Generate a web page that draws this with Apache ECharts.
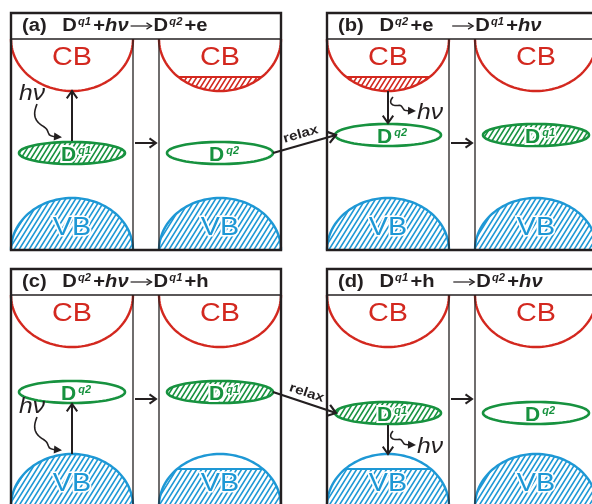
<!DOCTYPE html>
<html><head><meta charset="utf-8">
<script src="https://cdn.jsdelivr.net/npm/echarts@6/dist/echarts.min.js"></script>
<style>html,body{margin:0;padding:0;background:#fff}#c{width:592px;height:504px}</style>
</head><body><div id="c"></div>
<script>
// ================= DATA =================
// four panels (a)-(d), each with two sub-panels (before / after)
const panelLeft = [11, 327, 11, 327];          // x of panel left edge (diagram units)
const panelTop = [13, 13, 269, 269];           // y of panel top edge
// reaction titles: left-hand side and right-hand side of the arrow
const titleLeft = [
  '{b|(a)}{g| }{b|D}{s|q1}{b|+}{i|hν}',
  '{b|(b)}{g| }{b|D}{s|q2}{b|+e}{b|\u00a0\u00a0\u00a0}',
  '{b|(c)}{g| }{b|D}{s|q2}{b|+}{i|hν}',
  '{b|(d)}{g| }{b|D}{s|q1}{b|+h}{b|\u00a0\u00a0\u00a0}'
];
const titleRight = [
  '{b|D}{s|q2}{b|+e}',
  '{b|D}{s|q1}{b|+}{i|hν}',
  '{b|D}{s|q1}{b|+h}',
  '{b|D}{s|q2}{b|+}{i|hν}'
];
const defectLevel = [153, 135, 392, 413];      // y of the defect level in each panel
// sub-panel states: a-L, a-R, b-L, b-R, c-L, c-R, d-L, d-R
const cbElectrons   = [0, 1, 1, 0, 0, 0, 0, 0];
const vbHoles       = [0, 0, 0, 0, 0, 1, 1, 0];
const defectCharge  = ['q1', 'q2', 'q2', 'q1', 'q2', 'q1', 'q1', 'q2'];
const defectFilled  = [1, 0, 0, 1, 0, 1, 1, 0];
// optical transition in the left sub-panel of each panel: [from, to]
const transitions = [['D', 'CB'], ['CB', 'D'], ['VB', 'D'], ['D', 'VB']];
// relaxation arrows: from panel (right sub-panel) to panel (left sub-panel)
const relaxFrom = [0, 2];
const relaxTo = [1, 3];

// ================= GEOMETRY / STYLE =================
const PW = 270, PH = 237, TH = 26, SW = 122, GAP = 26;
const BRX = 61, BRY = 52, DRX = 53, DRY = 11;
const INK = '#231f20', RED = '#d3281f', GREEN = '#17923f', BLUE = '#1e98d5';
const FONT = 'Liberation Sans, Arial, sans-serif';
const TITLE_RICH = {
  b: { fontSize: 18, fontWeight: 'bold', fontFamily: FONT, fill: INK },
  i: { fontSize: 18, fontWeight: 'bold', fontStyle: 'italic', fontFamily: FONT, fill: INK },
  s: { fontSize: 10, fontWeight: 'bold', fontStyle: 'italic', fontFamily: FONT, fill: INK, verticalAlign: 'top', padding: [0, 2, 0, 1] },
  g: { width: 14, fontSize: 18, fontFamily: FONT }
};
const TSX = 1.12;

function hatch(color) {
  const w = 5, h = 8;
  const c = document.createElement('canvas');
  c.width = w; c.height = h;
  const g = c.getContext('2d');
  g.strokeStyle = color; g.lineWidth = 1.6;
  g.beginPath();
  for (const k of [-1, 0, 1]) {
    g.moveTo(-w + k * w, 2 * h); g.lineTo(2 * w + k * w, -h);
  }
  g.stroke();
  return { image: c, repeat: 'repeat' };
}
const HATCH = { red: hatch(RED), green: hatch(GREEN), blue: hatch(BLUE) };

function textWidth(text, rich) {
  const t = new echarts.graphic.Text({ style: { text: text, rich: rich } });
  return t.getBoundingRect().width;
}
function ell(cx, cy, rx, ry, t0, t1, n) {
  const pts = [];
  for (let i = 0; i <= n; i++) {
    const t = t0 + (t1 - t0) * i / n;
    pts.push([cx + rx * Math.cos(t), cy + ry * Math.sin(t)]);
  }
  return pts;
}
function arrow(p1, p2, color, lw, hl, ha) {
  const a = Math.atan2(p2[1] - p1[1], p2[0] - p1[0]);
  ha = ha || 0.62; hl = hl || 8;
  return [
    { type: 'line', shape: { x1: p1[0], y1: p1[1], x2: p2[0], y2: p2[1] }, style: { stroke: color, lineWidth: lw } },
    { type: 'polyline', shape: { points: [
      [p2[0] - hl * Math.cos(a - ha), p2[1] - hl * Math.sin(a - ha)], [p2[0], p2[1]],
      [p2[0] - hl * Math.cos(a + ha), p2[1] - hl * Math.sin(a + ha)]] },
      style: { stroke: color, lineWidth: lw, fill: null, lineJoin: 'miter' } }
  ];
}
function squiggle(p1, p2) {
  // quadratic base curve starting downward, ending rightward, with a wave on top
  const c = [p1[0], p2[1]];
  const pts = []; const n = 40;
  for (let i = 0; i <= n; i++) {
    const s = i / n;
    const bx = (1 - s) * (1 - s) * p1[0] + 2 * (1 - s) * s * c[0] + s * s * p2[0];
    const by = (1 - s) * (1 - s) * p1[1] + 2 * (1 - s) * s * c[1] + s * s * p2[1];
    const tx = 2 * (1 - s) * (c[0] - p1[0]) + 2 * s * (p2[0] - c[0]);
    const ty = 2 * (1 - s) * (c[1] - p1[1]) + 2 * s * (p2[1] - c[1]);
    const L = Math.hypot(tx, ty) || 1;
    const off = s < 0.75 ? 3 * Math.sin(s / 0.75 * 2 * Math.PI) : 0;
    pts.push([bx - ty / L * off, by + tx / L * off]);
  }
  const e = pts[n], q = pts[n - 4];
  const a = Math.atan2(e[1] - q[1], e[0] - q[0]);
  const hl = 8, hw = 4;
  const tip = [e[0] + 3 * Math.cos(a), e[1] + 3 * Math.sin(a)];
  return [
    { type: 'polyline', shape: { points: pts }, style: { stroke: INK, lineWidth: 1.6, fill: null } },
    { type: 'polygon', shape: { points: [tip,
      [tip[0] - hl * Math.cos(a) + hw * Math.sin(a), tip[1] - hl * Math.sin(a) - hw * Math.cos(a)],
      [tip[0] - hl * Math.cos(a) - hw * Math.sin(a), tip[1] - hl * Math.sin(a) + hw * Math.cos(a)]] },
      style: { fill: INK } }
  ];
}

// ================= RENDERERS =================
function renderFrame(params, api) {
  const p = params.dataIndex;
  const x0 = api.value(0), y0 = api.value(1);
  const C = (x, y) => api.coord([x, y]);
  const a = C(x0, y0), b = C(x0 + PW, y0 + PH);
  const ch = [];
  ch.push({ type: 'rect', shape: { x: a[0], y: a[1], width: b[0] - a[0], height: b[1] - a[1] },
    style: { fill: null, stroke: INK, lineWidth: 2.4 } });
  const d1 = C(x0, y0 + TH), d2 = C(x0 + PW, y0 + TH);
  ch.push({ type: 'line', shape: { x1: d1[0], y1: d1[1], x2: d2[0], y2: d2[1] }, style: { stroke: INK, lineWidth: 1.3 } });
  for (const xv of [x0 + SW, x0 + SW + GAP]) {
    const v1 = C(xv, y0 + TH), v2 = C(xv, y0 + PH);
    ch.push({ type: 'line', shape: { x1: v1[0], y1: v1[1], x2: v2[0], y2: v2[1] }, style: { stroke: INK, lineWidth: 1.3 } });
  }
  ch.push(...arrow(C(x0 + SW + 2, y0 + 130), C(x0 + SW + GAP - 3, y0 + 130), INK, 2, 8));
  // title: left side, arrow, right side
  const tp = C(x0 + 11, y0 + 13.5);
  ch.push({ type: 'text', x: tp[0], y: tp[1], scaleX: TSX, style: {
    text: titleLeft[p], align: 'left', verticalAlign: 'middle', rich: TITLE_RICH } });
  const ax = tp[0] + textWidth(titleLeft[p], TITLE_RICH) * TSX + 2;
  const ay = tp[1] - 0.5;
  ch.push(...arrow([ax, ay], [ax + 21, ay], INK, 1.2, 6, 0.55));
  ch.push({ type: 'text', x: ax + 23, y: tp[1], scaleX: TSX, style: {
    text: titleRight[p], align: 'left', verticalAlign: 'middle', rich: TITLE_RICH } });
  return { type: 'group', children: ch };
}

function renderSub(params, api) {
  const k = params.dataIndex, p = Math.floor(k / 2);
  const cx = api.value(0), top = api.value(1);
  const div = top + TH, bot = top + PH, lvl = defectLevel[p];
  const C = (x, y) => api.coord([x, y]);
  const P = pts => pts.map(q => C(q[0], q[1]));
  const ch = [];
  // conduction band
  if (cbElectrons[k]) {
    const yc = div + BRY - 14, a = Math.asin((yc - div) / BRY);
    ch.push({ type: 'polygon', shape: { points: P(ell(cx, div, BRX, BRY, a, Math.PI - a, 30)) }, style: { fill: HATCH.red } });
    const l = C(cx - BRX * Math.cos(a), yc), r = C(cx + BRX * Math.cos(a), yc);
    ch.push({ type: 'line', shape: { x1: l[0], y1: l[1], x2: r[0], y2: r[1] }, style: { stroke: RED, lineWidth: 2 } });
  }
  ch.push({ type: 'polyline', shape: { points: P(ell(cx, div, BRX, BRY, 0, Math.PI, 60)) }, style: { stroke: RED, lineWidth: 2.4, fill: null } });
  const cbt = C(cx, div + 19);
  ch.push({ type: 'text', x: cbt[0], y: cbt[1], scaleX: 1.15, style: { text: 'CB', fontSize: 25, fontFamily: FONT, fill: RED, align: 'center', verticalAlign: 'middle' } });
  // valence band
  if (vbHoles[k]) {
    const yc = bot - BRY + 15, a = Math.asin((bot - yc) / BRY);
    const pts = ell(cx, bot, BRX, BRY, Math.PI, Math.PI + a, 15).concat(ell(cx, bot, BRX, BRY, 2 * Math.PI - a, 2 * Math.PI, 15));
    ch.push({ type: 'polygon', shape: { points: P(pts) }, style: { fill: HATCH.blue } });
    const l = C(cx - BRX * Math.cos(a), yc), r = C(cx + BRX * Math.cos(a), yc);
    ch.push({ type: 'line', shape: { x1: l[0], y1: l[1], x2: r[0], y2: r[1] }, style: { stroke: BLUE, lineWidth: 2 } });
  } else {
    ch.push({ type: 'polygon', shape: { points: P(ell(cx, bot, BRX, BRY, Math.PI, 2 * Math.PI, 60)) }, style: { fill: HATCH.blue } });
  }
  ch.push({ type: 'polyline', shape: { points: P(ell(cx, bot, BRX, BRY, Math.PI, 2 * Math.PI, 60)) }, style: { stroke: BLUE, lineWidth: 2.4, fill: null } });
  const vbt = C(cx, bot - 22);
  ch.push({ type: 'text', x: vbt[0], y: vbt[1], scaleX: 1.15, style: { text: 'VB', fontSize: 25, fontFamily: FONT, fill: BLUE, align: 'center', verticalAlign: 'middle',
    stroke: '#fff', lineWidth: 3 } });
  // defect level
  ch.push({ type: 'polygon', shape: { points: P(ell(cx, lvl, DRX, DRY, 0, 2 * Math.PI, 72)) },
    style: { fill: defectFilled[k] ? HATCH.green : '#fff', stroke: GREEN, lineWidth: 2.6 } });
  const dt = C(cx + 4, lvl + 2.5);
  ch.push({ type: 'text', x: dt[0], y: dt[1], style: {
    text: '{d|D}{s|' + defectCharge[k] + '}', align: 'center', verticalAlign: 'middle',
    rich: {
      d: { fontSize: 21, fontWeight: 'bold', fontFamily: FONT, fill: GREEN, stroke: '#fff', lineWidth: defectFilled[k] ? 4 : 0 },
      s: { fontSize: 11, fontWeight: 'bold', fontStyle: 'italic', fontFamily: FONT, fill: GREEN, verticalAlign: 'top', padding: [0, 0, 0, 2],
           stroke: '#fff', lineWidth: defectFilled[k] ? 3 : 0 }
    } } });
  return { type: 'group', children: ch };
}

function renderTransition(params, api) {
  const p = params.dataIndex;
  const cx = api.value(0), top = api.value(1);
  const div = top + TH, bot = top + PH, lvl = defectLevel[p];
  const C = (x, y) => api.coord([x, y]);
  const yOf = s => s === 'CB' ? div + BRY : s === 'VB' ? bot - BRY : null;
  const [from, to] = transitions[p];
  const bandY = yOf(from === 'D' ? to : from);
  const dY = bandY < lvl ? lvl - DRY - 1 : lvl + DRY + 1;
  const y1 = from === 'D' ? dY : bandY, y2 = to === 'D' ? dY : bandY;
  const ch = arrow(C(cx, y1), C(cx, y2), INK, 2, 9);
  const upward = y2 < y1;           // upward = absorption, photon comes from the left
  const yHigh = Math.min(y1, y2), yLow = Math.max(y1, y2);
  let t, s1, s2;
  if (upward) {
    t = C(cx - 40, yHigh + 3); s1 = C(cx - 35, yHigh + 13); s2 = C(cx - 13, yLow - 4);
  } else {
    t = C(cx + 42, yHigh + 22); s1 = C(cx + 5, yHigh + 6); s2 = C(cx + 25, yHigh + 20);
  }
  ch.push(...squiggle(s1, s2));
  ch.push({ type: 'text', x: t[0], y: t[1], scaleX: 1.12, style: { text: 'hν', fontSize: 22, fontStyle: 'italic', fontFamily: FONT, fill: INK,
    align: 'center', verticalAlign: 'middle' } });
  return { type: 'group', children: ch };
}

function renderRelax(params, api) {
  const i = params.dataIndex;
  const pf = relaxFrom[i], pt = relaxTo[i];
  const C = (x, y) => api.coord([x, y]);
  const a = C(panelLeft[pf] + SW + GAP + SW / 2 + DRX, defectLevel[pf]);
  const b = C(panelLeft[pt] + SW / 2 - DRX + 1, defectLevel[pt]);
  const ch = arrow(a, b, INK, 2.2, 10);
  const ang = Math.atan2(b[1] - a[1], b[0] - a[0]);
  const mx = (a[0] + b[0]) / 2 - 1 + 10 * Math.sin(ang), my = (a[1] + b[1]) / 2 - 10 * Math.cos(ang);
  ch.push({ type: 'text', x: mx, y: my, rotation: -ang, scaleX: 1.18, style: { text: 'relax', fontSize: 13, fontWeight: 'bold', fontFamily: FONT,
    fill: INK, align: 'center', verticalAlign: 'middle' } });
  return { type: 'group', children: ch };
}

// ================= CHART =================
const subData = [];
for (let k = 0; k < 8; k++) {
  const p = Math.floor(k / 2), s = k % 2;
  subData.push([panelLeft[p] + SW / 2 + s * (SW + GAP), panelTop[p]]);
}
const frameData = panelLeft.map((x, i) => [x, panelTop[i]]);
const transData = panelLeft.map((x, i) => [x + SW / 2, panelTop[i]]);
const relaxData = relaxFrom.map((f, i) => [panelLeft[f], panelTop[f]]);

const chart = echarts.init(document.getElementById('c'), null, { renderer: 'canvas' });
chart.setOption({
  animation: false,
  backgroundColor: '#fff',
  grid: { left: 0, right: 0, top: 0, bottom: 0 },
  xAxis: { type: 'value', min: 0, max: 592, show: false },
  yAxis: { type: 'value', min: 0, max: 504, inverse: true, show: false },
  series: [
    { type: 'custom', coordinateSystem: 'cartesian2d', silent: true, data: subData, renderItem: renderSub, z: 1 },
    { type: 'custom', coordinateSystem: 'cartesian2d', silent: true, data: frameData, renderItem: renderFrame, z: 2 },
    { type: 'custom', coordinateSystem: 'cartesian2d', silent: true, data: transData, renderItem: renderTransition, z: 3 },
    { type: 'custom', coordinateSystem: 'cartesian2d', silent: true, data: relaxData, renderItem: renderRelax, z: 4 }
  ]
});
</script></body></html>
